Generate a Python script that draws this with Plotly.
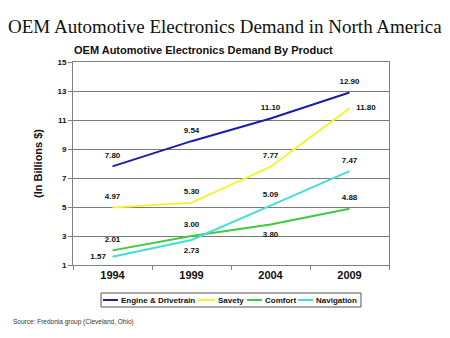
import plotly.graph_objects as go

years = ["1994", "1999", "2004", "2009"]
engine = [7.80, 9.54, 11.10, 12.90]
safety = [4.97, 5.30, 7.77, 11.80]
comfort = [2.01, 3.00, 3.80, 4.88]
navigation = [1.57, 2.73, 5.09, 7.47]

series = [
    ("Engine & Drivetrain", engine, "#1c1ca8",
     ["top center", "top center", "top center", "top center"]),
    ("Savety", safety, "#f6f23c",
     ["top center", "top center", "top center", "middle right"]),
    ("Comfort", comfort, "#3ccc3c",
     ["top center", "top center", "bottom center", "top center"]),
    ("Navigation", navigation, "#44dcdc",
     ["middle left", "bottom center", "top center", "top center"]),
]

# Plot area in pixels (fixed, no auto-expansion)
L, R, T, B = 73, 61, 62, 73
W, H = 450, 338
PW, PH = W - L - R, H - T - B


def px(x):
    return (x - L) / PW


def py(y):
    return (H - B - y) / PH


fig = go.Figure()
for name, vals, color, pos in series:
    fig.add_trace(go.Scatter(
        x=years, y=vals, name=name, mode="lines+markers+text",
        line=dict(color=color, width=2),
        marker=dict(size=9, opacity=0, color=color),
        text=[f"{v:.2f}" for v in vals],
        textposition=pos,
        textfont=dict(family="Arial", size=8, color="#111111", weight="bold"),
        cliponaxis=False, showlegend=False,
    ))

fig.update_layout(
    width=W, height=H,
    margin=dict(l=L, r=R, t=T, b=B, autoexpand=False),
    paper_bgcolor="white", plot_bgcolor="white",
    showlegend=False,
    xaxis=dict(
        type="category", range=[-0.5, len(years) - 0.5],
        showgrid=False, showline=True, linecolor="#808080",
        ticks="outside", ticklen=4, tickcolor="#808080",
        tickson="boundaries", mirror=True,
        tickfont=dict(family="Arial", size=11, color="#111111", weight="bold"),
    ),
    yaxis=dict(
        range=[1, 15], tickvals=[1, 3, 5, 7, 9, 11, 13, 15],
        showgrid=True, gridcolor="#7a7a7a", gridwidth=1,
        showline=True, linecolor="#808080", mirror=True,
        ticks="outside", ticklen=4, tickcolor="#808080",
        tickfont=dict(family="Arial", size=8, color="#111111", weight="bold"),
        title=dict(text="<b>(In Billions $)</b>",
                   font=dict(family="Arial", size=11, color="#111111"),
                   standoff=12),
        zeroline=False,
    ),
)

fig.add_annotation(
    text="OEM Automotive Electronics Demand in North America",
    xref="paper", yref="paper", x=px(225), y=py(26),
    xanchor="center", yanchor="middle", showarrow=False,
    font=dict(family="Liberation Serif, Times New Roman", size=19, color="#111111"),
)
fig.add_annotation(
    text="<b>OEM Automotive Electronics Demand By Product</b>",
    xref="paper", yref="paper", x=px(72), y=py(50),
    xanchor="left", yanchor="middle", showarrow=False,
    font=dict(family="Arial", size=11, color="#111111"),
)
fig.add_annotation(
    text="Source: Fredonia group (Cleveland, Ohio)",
    xref="paper", yref="paper", x=px(11), y=py(322),
    xanchor="left", yanchor="middle", showarrow=False,
    font=dict(family="Arial", size=6.5, color="#333333"),
)

# Legend box drawn below the plot
legend_items = [
    ("Engine & Drivetrain", "#1c1ca8", 103, 118),
    ("Savety", "#f6f23c", 198, 215),
    ("Comfort", "#3ccc3c", 247, 262),
    ("Navigation", "#44dcdc", 298, 313),
]
fig.add_shape(type="rect", xref="paper", yref="paper",
              x0=px(101), x1=px(361), y0=py(293), y1=py(307),
              line=dict(color="#555555", width=1), fillcolor="white")
for label, color, x0, x1 in legend_items:
    fig.add_shape(type="line", xref="paper", yref="paper",
                  x0=px(x0), x1=px(x1), y0=py(300), y1=py(300),
                  line=dict(color=color, width=2))
    fig.add_annotation(
        text=f"<b>{label}</b>", xref="paper", yref="paper",
        x=px(x1 + 1), y=py(300), xanchor="left", yanchor="middle",
        showarrow=False,
        font=dict(family="Arial", size=8, color="#111111"),
    )

fig.write_html("out.html")
